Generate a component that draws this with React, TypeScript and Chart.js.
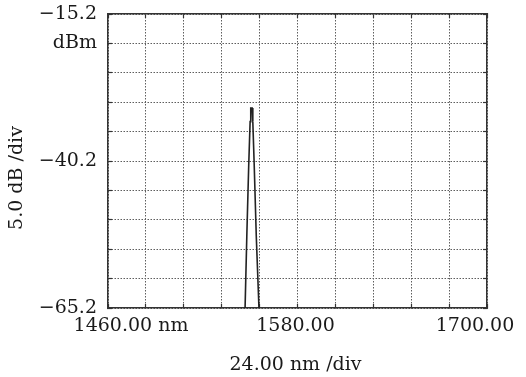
import React, { useEffect, useRef } from "react";
import { Chart, registerables } from "chart.js";

Chart.register(...registerables);

// Spectrum trace (wavelength in nm, power in dBm)
const wavelengths = [1546.8, 1547.9, 1549.1, 1550.0, 1550.4, 1551.3, 1551.7, 1552.6, 1553.9, 1555.6];
const powers = [-65.2, -53.0, -41.0, -33.5, -31.2, -31.2, -33.5, -41.0, -53.0, -65.2];

// Axis settings
const xMin = 1460;
const xMax = 1700;
const xStep = 24;
const yMin = -65.2;
const yMax = -15.2;
const yStep = 5;

// Tick labels
const yTickIndex = [0, 5, 9, 10];
const yTickText = ["\u221265.2", "\u221240.2", "dBm", "\u221215.2"];
const xLabelValues = [1460, 1580, 1700];
const xLabelText = ["1460.00 nm", "1580.00", "1700.00"];
const xLabelShift = [23, -2, -12];
const xTitle = "24.00 nm /div";
const yTitle = "5.0 dB /div";

const FONT = '"DejaVu Serif", serif';
const INK = "#1a1a1a";

const textPlugin = {
  id: "osaText",
  afterDraw(chart: any) {
    const ctx = chart.ctx;
    const xs = chart.scales.x;
    const area = chart.chartArea;
    ctx.save();
    ctx.fillStyle = INK;
    ctx.font = `19px ${FONT}`;
    ctx.textAlign = "center";
    ctx.textBaseline = "alphabetic";
    xLabelValues.forEach((v, i) => {
      const px = xs.getPixelForValue(v) + xLabelShift[i];
      ctx.fillText(xLabelText[i], px, area.bottom + 23);
    });
    ctx.fillText(xTitle, (area.left + area.right) / 2 - 2, area.bottom + 62);
    ctx.translate(22, (area.top + area.bottom) / 2 + 17);
    ctx.rotate(-Math.PI / 2);
    ctx.fillText(yTitle, 0, 0);
    ctx.restore();
  },
};

const gridCommon = {
  color: "#5e5e5e",
  lineWidth: 1,
  drawTicks: true,
  tickLength: -4,
  tickColor: "#333",
  tickWidth: 1.2,
  tickBorderDash: [],
};

const noPad = (s: any) => {
  s.paddingTop = 0;
  s.paddingBottom = 0;
  s.paddingLeft = 0;
  s.paddingRight = 0;
};

export default function App() {
  const ref = useRef<HTMLCanvasElement | null>(null);

  useEffect(() => {
    document.body.style.margin = "0";
    const canvas = ref.current;
    if (!canvas) return;
    const data = wavelengths.map((w, i) => ({ x: w, y: powers[i] }));
    const chart = new Chart(canvas, {
      type: "line",
      data: {
        datasets: [
          {
            data,
            borderColor: "#222",
            borderWidth: 1.6,
            pointRadius: 0,
            tension: 0,
            fill: false,
          },
        ],
      },
      plugins: [textPlugin],
      options: {
        animation: false,
        responsive: false,
        layout: { padding: 0 },
        plugins: { legend: { display: false }, tooltip: { enabled: false } },
        scales: {
          x: {
            type: "linear",
            position: "bottom",
            min: xMin,
            max: xMax,
            ticks: { stepSize: xStep, display: false },
            grid: { ...gridCommon },
            border: { display: true, color: "#333", width: 1.5, dash: [1.5, 1.5] },
            afterFit: (s: any) => {
              s.height = 69;
              noPad(s);
            },
          },
          x2: {
            type: "linear",
            position: "top",
            min: xMin,
            max: xMax,
            ticks: { stepSize: xStep, display: false },
            grid: { ...gridCommon, drawOnChartArea: false },
            border: { display: true, color: "#333", width: 1.5 },
            afterFit: (s: any) => {
              s.height = 14;
              noPad(s);
            },
          },
          y: {
            type: "linear",
            position: "left",
            min: yMin,
            max: yMax,
            ticks: {
              stepSize: yStep,
              padding: 15,
              color: INK,
              font: { family: FONT, size: 19 },
              autoSkip: false,
              callback: (_v: any, i: number) => {
                const k = yTickIndex.indexOf(i);
                return k >= 0 ? yTickText[k] : "";
              },
            },
            grid: { ...gridCommon },
            border: { display: true, color: "#333", width: 1.5, dash: [1.5, 1.5] },
            afterFit: (s: any) => {
              s.width = 108;
              noPad(s);
            },
          },
          y2: {
            type: "linear",
            position: "right",
            min: yMin,
            max: yMax,
            ticks: { stepSize: yStep, display: false },
            grid: { ...gridCommon, drawOnChartArea: false },
            border: { display: true, color: "#333", width: 1.5 },
            afterFit: (s: any) => {
              s.width = 39;
              noPad(s);
            },
          },
        },
      },
    } as any);
    return () => chart.destroy();
  }, []);

  return <canvas ref={ref} width={526} height={377} style={{ display: "block" }} />;
}
